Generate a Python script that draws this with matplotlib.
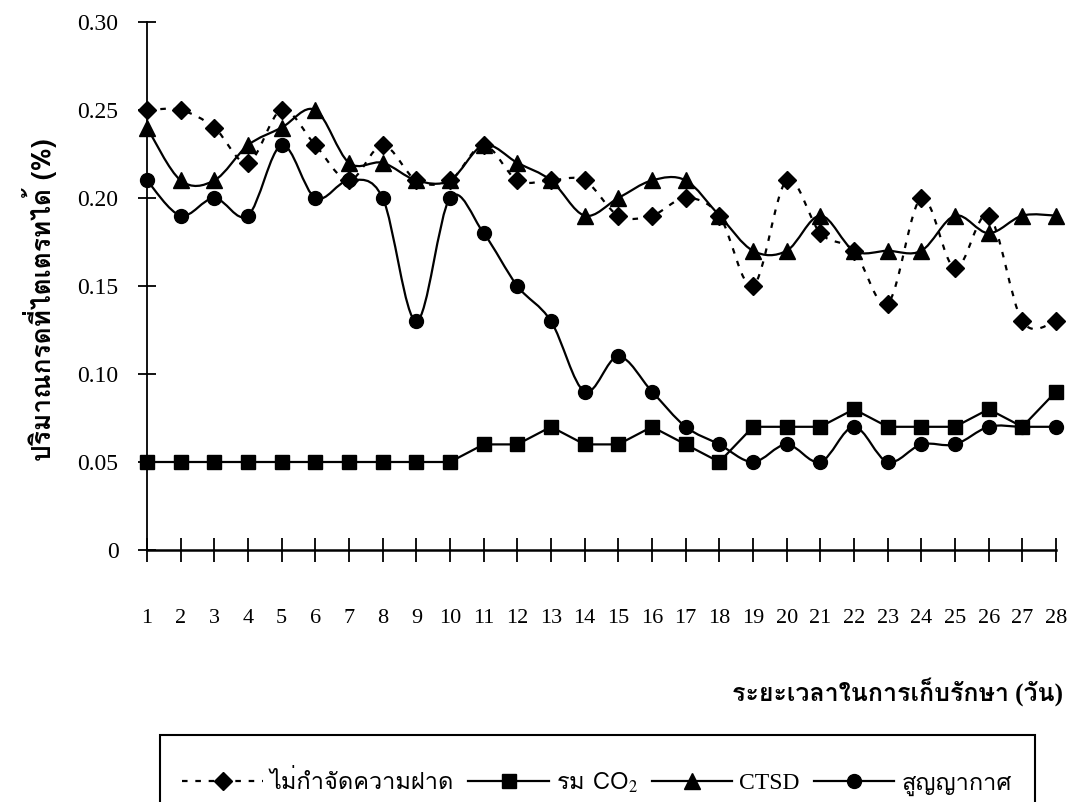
import matplotlib
matplotlib.use("Agg")
import matplotlib.pyplot as plt
import numpy as np
from matplotlib import font_manager
from matplotlib.ft2font import FT2Font
from matplotlib.path import Path
from matplotlib.patches import PathPatch, Rectangle
from matplotlib.lines import Line2D

# ----------------------------------------------------------------------------
# Data (titratable acidity, % vs. storage day)
# ----------------------------------------------------------------------------
days = list(range(1, 29))
no_astringency = [0.25, 0.25, 0.24, 0.22, 0.25, 0.23, 0.21, 0.23, 0.21, 0.21,
                  0.23, 0.21, 0.21, 0.21, 0.19, 0.19, 0.20, 0.19, 0.15, 0.21,
                  0.18, 0.17, 0.14, 0.20, 0.16, 0.19, 0.13, 0.13]
co2 = [0.05, 0.05, 0.05, 0.05, 0.05, 0.05, 0.05, 0.05, 0.05, 0.05,
       0.06, 0.06, 0.07, 0.06, 0.06, 0.07, 0.06, 0.05, 0.07, 0.07,
       0.07, 0.08, 0.07, 0.07, 0.07, 0.08, 0.07, 0.09]
ctsd = [0.24, 0.21, 0.21, 0.23, 0.24, 0.25, 0.22, 0.22, 0.21, 0.21,
        0.23, 0.22, 0.21, 0.19, 0.20, 0.21, 0.21, 0.19, 0.17, 0.17,
        0.19, 0.17, 0.17, 0.17, 0.19, 0.18, 0.19, 0.19]
vacuum = [0.21, 0.19, 0.20, 0.19, 0.23, 0.20, 0.21, 0.20, 0.13, 0.20,
          0.18, 0.15, 0.13, 0.09, 0.11, 0.09, 0.07, 0.06, 0.05, 0.06,
          0.05, 0.07, 0.05, 0.06, 0.06, 0.07, 0.07, 0.07]

series_labels = ["ไม่กำจัดความฝาด", "รม CO$_2$", "CTSD", "สูญญากาศ"]
ytick_vals = [0, 0.05, 0.10, 0.15, 0.20, 0.25, 0.30]
ytick_text = ["0", "0.05", "0.10", "0.15", "0.20", "0.25", "0.30"]
xlabel = "ระยะเวลาในการเก็บรักษา (วัน)"
ylabel = "ปริมาณกรดที่ไตเตรทได้ (%)"


def find_thai_font():
    """First installed font that actually has Thai glyphs."""
    for f in font_manager.fontManager.ttflist:
        try:
            cmap = FT2Font(f.fname).get_charmap()
        except Exception:
            continue
        if 0x0E01 in cmap and 0x0E32 in cmap:
            return f.name
    return "DejaVu Sans"


def smooth_path(x, y):
    """Excel-style smoothed line: Catmull-Rom turned into cubic Bezier segments."""
    pts = np.column_stack([x, y]).astype(float)
    verts = [pts[0]]
    codes = [Path.MOVETO]
    n = len(pts)
    for i in range(n - 1):
        p0 = pts[max(i - 1, 0)]
        p1 = pts[i]
        p2 = pts[i + 1]
        p3 = pts[min(i + 2, n - 1)]
        c1 = p1 + (p2 - p0) / 6.0
        c2 = p2 - (p3 - p1) / 6.0
        verts += [c1, c2, p2]
        codes += [Path.CURVE4] * 3
    return Path(verts, codes)


thai = find_thai_font()
serif = "Liberation Serif"
plt.rcParams["mathtext.fontset"] = "stix"

W, H = 1079, 802
fig = plt.figure(figsize=(W / 100, H / 100), dpi=100)
ax = fig.add_axes([147 / W, 1 - 550 / H, (1056 - 147) / W, (550 - 22) / H])

lw = 1.6
dotted = (0, (2.5, 3.5))
# smoothed series
for vals, ls in [(no_astringency, dotted), (ctsd, "-"), (vacuum, "-")]:
    ax.add_patch(PathPatch(smooth_path(days, vals), fill=False, color="black",
                           lw=lw, linestyle=ls, clip_on=False))
ax.plot(days, co2, color="black", lw=lw, clip_on=False)

ax.plot(days, no_astringency, linestyle="none", marker="D", ms=9, color="black", clip_on=False)
ax.plot(days, co2, linestyle="none", marker="s", ms=10, color="black", clip_on=False)
ax.plot(days, ctsd, linestyle="none", marker="^", ms=11, color="black", clip_on=False)
ax.plot(days, vacuum, linestyle="none", marker="o", ms=10, color="black", clip_on=False)

ax.set_xlim(1, 28)
ax.set_ylim(0, 0.30)
ax.set_xticks(days)
ax.set_xticklabels([str(d) for d in days], fontfamily=serif, fontsize=16)
ax.set_yticks(ytick_vals)
ax.set_yticklabels(ytick_text, fontfamily=serif, fontsize=17)
ax.tick_params(axis="x", direction="inout", length=17, width=1.3, pad=34)
ax.tick_params(axis="y", direction="inout", length=13, width=1.3, pad=14)

for s in ["top", "right"]:
    ax.spines[s].set_visible(False)
ax.spines["left"].set_linewidth(1.3)
ax.spines["bottom"].set_linewidth(1.8)

fig.text(40 / W, 1 - 300 / H, ylabel, rotation=90, ha="center", va="center",
         fontfamily=[thai, "DejaVu Sans"], fontsize=19, fontweight="bold")
fig.text(1063 / W, 1 - 692 / H, xlabel, ha="right", va="center",
         fontfamily=[serif, thai], fontsize=18, fontweight="bold")

# legend box, bottom edge runs off the page as in the scan
fig.patches.append(Rectangle((160 / W, -0.05), (1035 - 160) / W, (802 - 735) / H + 0.05,
                             transform=fig.transFigure, fill=False, lw=1.5,
                             edgecolor="black"))
handles = [
    Line2D([], [], color="black", lw=lw, linestyle=dotted, marker="D", ms=9),
    Line2D([], [], color="black", lw=lw, marker="s", ms=10),
    Line2D([], [], color="black", lw=lw, marker="^", ms=11),
    Line2D([], [], color="black", lw=lw, marker="o", ms=10),
]
leg = fig.legend(handles, series_labels, loc="center", bbox_to_anchor=(597 / W, 1 - 783 / H),
                 ncol=4, frameon=False, handlelength=3.4, columnspacing=0.6,
                 handletextpad=0.3, prop={"family": [serif, thai], "size": 17})
# mathtext ignores the fallback list, so the CO2 label needs the Thai font first
leg.get_texts()[1].set_fontfamily(thai)

fig.savefig("out.png", dpi=100)
